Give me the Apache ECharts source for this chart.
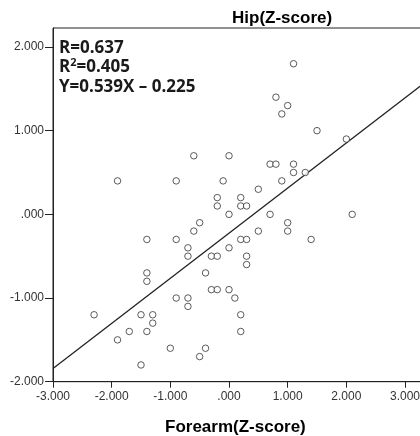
<!DOCTYPE html>
<html>
<head>
<meta charset="utf-8">
<script src="https://cdn.jsdelivr.net/npm/echarts@6/dist/echarts.min.js"></script>
<style>
  html, body { margin: 0; padding: 0; overflow: hidden; background: #fff; }
  #chart { width: 540px; height: 436px; }
</style>
</head>
<body>
<div id="chart"></div>
<script>
// Forearm vs Hip Z-scores
const forearm = [
  -0.6, 0.0, -1.9, -0.9, -0.1, -0.2, -0.2, 0.2, 0.2, 0.3,
  0.0, -0.5, -0.6, -1.4, -0.9, -0.7, -0.7, -0.3, -0.2, 0.0,
  0.2, 0.3, 0.3, 0.3, -1.4, -1.4, -0.4, -0.3, -0.2, 0.0,
  0.1, -0.9, -0.7, -0.7, -2.3, -1.5, -1.3, -1.3, -1.7, -1.4,
  -1.9, -1.0, -0.4, -0.5, -1.5, 0.2, 0.2, 1.1, 0.8, 1.0,
  0.9, 1.5, 2.0, 0.7, 0.8, 1.1, 1.1, 1.3, 0.9, 0.5,
  0.7, 2.1, 1.0, 0.5, 1.0, 1.4
]
const hip = [
  0.7, 0.7, 0.4, 0.4, 0.4, 0.2, 0.1, 0.2, 0.1, 0.1,
  0.0, -0.1, -0.2, -0.3, -0.3, -0.4, -0.5, -0.5, -0.5, -0.4,
  -0.3, -0.3, -0.5, -0.6, -0.7, -0.8, -0.7, -0.9, -0.9, -0.9,
  -1.0, -1.0, -1.0, -1.1, -1.2, -1.2, -1.2, -1.3, -1.4, -1.4,
  -1.5, -1.6, -1.6, -1.7, -1.8, -1.2, -1.4, 1.8, 1.4, 1.3,
  1.2, 1.0, 0.9, 0.6, 0.6, 0.6, 0.5, 0.5, 0.4, 0.3,
  0.0, 0.0, -0.1, -0.2, -0.2, -0.3
]
// fitted line from the annotation
const slope = 0.539
const intercept = -0.225
const fitX = [-3, 4.8]
const statLines = ['R=0.637', 'R{sup|2}=0.405', 'Y=0.539X – 0.225']

const points = forearm.map((x, i) => [x, hip[i]])
const fitLine = fitX.map(x => [x, slope * x + intercept])

const fmt = v => v === 0 ? '.000' : v.toFixed(3)

const chart = echarts.init(document.getElementById('chart'), null, { renderer: 'canvas' })
chart.setOption({
  animation: false,
  grid: {
    left: 53, top: 28, width: 457.6, height: 353.7,
    show: true, borderColor: '#222', borderWidth: 1
  },
  xAxis: {
    type: 'value', min: -3, max: 4.8, interval: 1,
    splitLine: { show: false },
    axisLine: { onZero: false, lineStyle: { color: '#222' } },
    axisTick: { length: 6, lineStyle: { color: '#222' } },
    axisLabel: {
      formatter: fmt, color: '#333', fontSize: 12,
      fontFamily: 'Liberation Sans', margin: 9, showMaxLabel: false
    }
  },
  yAxis: {
    type: 'value', min: -2, max: 2.227, interval: 1,
    splitLine: { show: false },
    axisLine: { onZero: false, lineStyle: { color: '#222' } },
    axisTick: { length: 8, lineStyle: { color: '#222' } },
    axisLabel: {
      formatter: fmt, color: '#333', fontSize: 12,
      fontFamily: 'Liberation Sans', margin: 9, showMaxLabel: false
    }
  },
  graphic: [
    {
      type: 'text', left: 232, top: 10,
      style: { text: 'Hip(Z-score)', font: 'bold 17px "Liberation Sans"', fill: '#000' }
    },
    {
      type: 'text', left: 165, top: 419,
      style: { text: 'Forearm(Z-score)', font: 'bold 17px "Liberation Sans"', fill: '#000' }
    },
    {
      type: 'text', left: 59, top: 38,
      style: {
        text: statLines.join('\n'),
        font: 'bold 17px "Open Sans"', fill: '#1a1a1a', lineHeight: 19.5,
        rich: { sup: { font: 'bold 11px "Open Sans"', verticalAlign: 'top', lineHeight: 19.5 } }
      }
    }
  ],
  series: [
    {
      type: 'line', data: fitLine, symbol: 'none',
      lineStyle: { color: '#222', width: 1.3 }, z: 1
    },
    {
      type: 'scatter', data: points, symbol: 'circle', symbolSize: 6.5,
      itemStyle: { color: '#fff', borderColor: '#333', borderWidth: 1 }, z: 2
    }
  ]
})
</script>
</body>
</html>
